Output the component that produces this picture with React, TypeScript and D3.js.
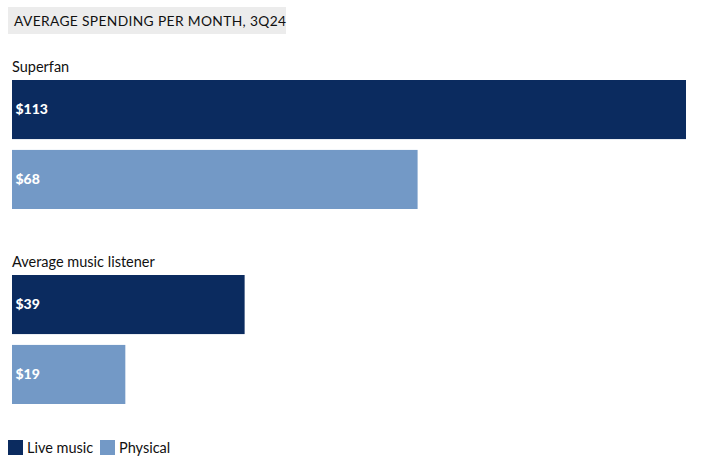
import React from "react";
import * as d3 from "d3";

const title = "AVERAGE SPENDING PER MONTH, 3Q24";
const groups = ["Superfan", "Average music listener"];
const series = ["Live music", "Physical"];
const liveValues = [113, 39];
const physicalValues = [68, 19];
const colors = ["#0b2b5f", "#7399c6"];

const W = 704;
const H = 466;
const FONT = "Lato, 'Open Sans', sans-serif";

export default function App() {
  const x = d3.scaleLinear().domain([0, 113]).range([12, 686]);
  const groupTop = d3.scaleOrdinal<string, number>().domain(groups).range([80, 275]);
  const barY = d3.scaleBand().domain(series).range([0, 129]).paddingInner(0.155);
  const valuesBy = [liveValues, physicalValues];

  return (
    <svg
      width={W}
      height={H}
      style={{ position: "absolute", left: 0, top: 0, background: "#fff" }}
      fontFamily={FONT}
    >
      <rect x={8} y={7} width={278} height={27} fill="#ececec" />
      <text x={14} y={25.5} fontSize={13.8} fill="#111" letterSpacing={0.35}>
        {title}
      </text>
      {groups.map((g, gi) => {
        const top = groupTop(g);
        return (
          <g key={g}>
            <text x={12} y={top - 8} fontSize={14.5} fill="#111">
              {g}
            </text>
            {series.map((s, si) => {
              const v = valuesBy[si][gi];
              const y = top + (barY(s) as number);
              const h = barY.bandwidth();
              return (
                <g key={s}>
                  <rect x={x(0)} y={y} width={x(v) - x(0)} height={h} fill={colors[si]} />
                  <text
                    x={x(0) + 3.5}
                    y={y + h / 2}
                    dy="0.35em"
                    fontSize={14}
                    fontWeight={900}
                    fill="#fff"
                  >
                    {"$" + v}
                  </text>
                </g>
              );
            })}
          </g>
        );
      })}
      <g>
        {series.map((s, i) => {
          const lx = i === 0 ? 8 : 100;
          return (
            <g key={s}>
              <rect x={lx} y={440} width={15} height={15} fill={colors[i]} />
              <text x={lx + 19} y={453} fontSize={14.5} fill="#111">
                {s}
              </text>
            </g>
          );
        })}
      </g>
    </svg>
  );
}
